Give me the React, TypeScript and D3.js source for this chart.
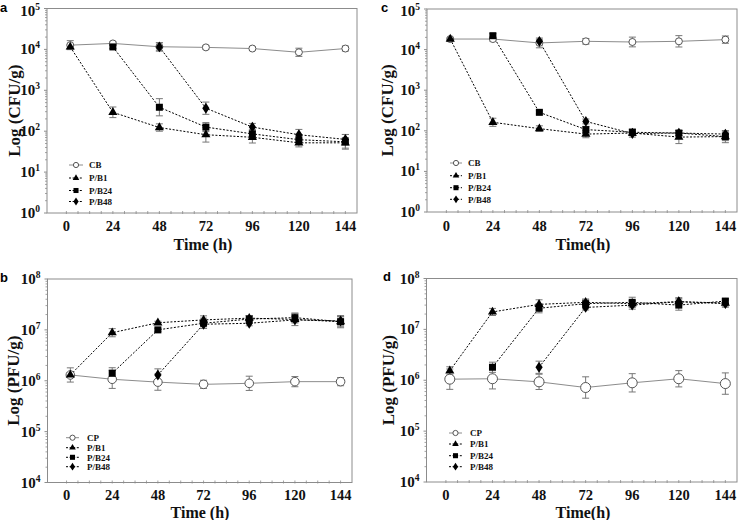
import React from "react";
import * as d3 from "d3";

// ---------- data ----------
const tAll = [2, 24, 48, 72, 96, 120, 144];
const t24 = [24, 48, 72, 96, 120, 144];
const t48 = [48, 72, 96, 120, 144];
const xTickValues = [0, 24, 48, 72, 96, 120, 144];

// panel a (bacteria, CFU/g)
const aCB = [1.27e4, 1.4e4, 1.16e4, 1.12e4, 1.05e4, 8.5e3, 1.05e4];
const aCBErr = [0.11, 0.04, 0.1, 0.04, 0.04, 0.1, 0.06];
const aB1 = [1.15e4, 290, 123, 82, 71, 52, 52];
const aB1Err = [0.05, 0.13, 0.09, 0.18, 0.14, 0.1, 0.13];
const aB24 = [1.15e4, 385, 126, 86, 62, 55];
const aB24Err = [0.04, 0.21, 0.11, 0.11, 0.11, 0.18];
const aB48 = [1.15e4, 365, 126, 82, 63];
const aB48Err = [0.1, 0.15, 0.09, 0.13, 0.12];

// panel b (phage, PFU/g)
const bCP = [1.3e6, 1.07e6, 9.4e5, 8.5e5, 8.9e5, 9.6e5, 9.6e5];
const bCPErr = [0.14, 0.18, 0.16, 0.08, 0.14, 0.1, 0.08];
const bB1 = [1.3e6, 8.8e6, 1.38e7, 1.57e7, 1.7e7, 1.6e7, 1.45e7];
const bB1Err = [0.05, 0.08, 0.03, 0.08, 0.05, 0.12, 0.1];
const bB24 = [1.4e6, 1.0e7, 1.35e7, 1.63e7, 1.74e7, 1.45e7];
const bB24Err = [0.11, 0.03, 0.1, 0.07, 0.09, 0.12];
const bB48 = [1.3e6, 1.29e7, 1.35e7, 1.57e7, 1.5e7];
const bB48Err = [0.12, 0.08, 0.05, 0.06, 0.08];

// panel c (bacteria, CFU/g)
const cCB = [1.82e4, 1.82e4, 1.46e4, 1.6e4, 1.54e4, 1.6e4, 1.76e4];
const cCBErr = [0.03, 0.05, 0.12, 0.07, 0.12, 0.14, 0.09];
const cB1 = [1.82e4, 162, 113, 83, 88, 70, 72];
const cB1Err = [0.03, 0.1, 0.07, 0.09, 0.1, 0.16, 0.15];
const cB24 = [2.2e4, 285, 107, 92, 88, 72];
const cB24Err = [0.05, 0.04, 0.08, 0.07, 0.06, 0.1];
const cB48 = [1.6e4, 170, 86, 88, 83];
const cB48Err = [0.05, 0.06, 0.05, 0.06, 0.07];

// panel d (phage, PFU/g)
const dCP = [1.05e6, 1.07e6, 9.3e5, 7.2e5, 8.9e5, 1.07e6, 8.6e5];
const dCPErr = [0.2, 0.2, 0.15, 0.21, 0.18, 0.16, 0.21];
const dB1 = [1.53e6, 2.2e7, 3.1e7, 3.4e7, 3.2e7, 3.5e7, 3.3e7];
const dB1Err = [0.08, 0.07, 0.09, 0.06, 0.06, 0.08, 0.06];
const dB24 = [1.8e6, 2.6e7, 3.2e7, 3.4e7, 3.0e7, 3.6e7];
const dB24Err = [0.1, 0.09, 0.09, 0.1, 0.1, 0.05];
const dB48 = [1.8e6, 2.7e7, 3.0e7, 3.5e7, 3.2e7];
const dB48Err = [0.12, 0.05, 0.08, 0.06, 0.07];

const legendB = ["CB", "P/B1", "P/B24", "P/B48"];
const legendP = ["CP", "P/B1", "P/B24", "P/B48"];

// ---------- drawing ----------
type Series = { t: number[]; v: number[]; e: number[]; kind: string };

const GRAY = "#8c8c8c";
const SERIF = "'Liberation Serif', 'Times New Roman', serif";
const SANS = "'Liberation Sans', Arial, sans-serif";

function Marker({ kind, x, y, r, s = 1 }: { kind: string; x: number; y: number; r: number; s?: number }) {
  if (kind === "circle")
    return <circle cx={x} cy={y} r={r} fill="#fff" stroke="#555" strokeWidth={1} />;
  if (kind === "triangle") {
    const p = d3.symbol(d3.symbolTriangle, 36)();
    return <path d={p || ""} transform={`translate(${x},${y}) scale(${s})`} fill="#000" />;
  }
  if (kind === "square") {
    const h = 3.5 * s;
    return <rect x={x - h} y={y - h} width={2 * h} height={2 * h} fill="#000" />;
  }
  const p = d3.symbol(d3.symbolDiamond, 34)();
  return <path d={p || ""} transform={`translate(${x},${y}) scale(${1.15 * s},${s})`} fill="#000" />;
}

type PanelProps = {
  left: number; right: number; top: number; bottom: number;
  yMinExp: number; yMaxExp: number;
  series: Series[];
  legend: string[];
  legendPos: { x0: number; x1: number; tx: number; ys: number[] };
  yTitle: string; xTitle: string;
  letter: string; letterX: number; letterY: number;
  yTitleX: number; tickBaseline: number; xTitleY: number; xTitleX: number;
  circR: number;
};

function Panel(p: PanelProps) {
  const x = d3.scaleLinear().domain([-10, 150]).range([p.left, p.right]);
  const y = d3
    .scaleLog()
    .domain([Math.pow(10, p.yMinExp), Math.pow(10, p.yMaxExp)])
    .range([p.bottom, p.top]);

  const decades = d3.range(p.yMinExp, p.yMaxExp + 1);
  const minor: number[] = [];
  for (let e = p.yMinExp; e < p.yMaxExp; e++)
    for (let k = 2; k <= 9; k++) minor.push(k * Math.pow(10, e));
  const xMinor = d3.range(0, 150, 6);

  const line = d3
    .line<[number, number]>()
    .x((d) => x(d[0]))
    .y((d) => y(d[1]));

  return (
    <g>
      {/* frame */}
      <rect
        x={p.left}
        y={p.top}
        width={p.right - p.left}
        height={p.bottom - p.top}
        fill="none"
        stroke={GRAY}
        strokeWidth={1}
      />
      {/* y minor ticks */}
      {minor.map((m, i) => (
        <line key={"ym" + i} x1={p.left - 2} x2={p.left} y1={y(m)} y2={y(m)} stroke={GRAY} strokeWidth={0.8} />
      ))}
      {decades.map((e) => (
        <line key={"yM" + e} x1={p.left - 3} x2={p.left} y1={y(Math.pow(10, e))} y2={y(Math.pow(10, e))} stroke={GRAY} strokeWidth={1} />
      ))}
      {/* x ticks */}
      {xMinor.map((t) => (
        <line key={"xm" + t} x1={x(t)} x2={x(t)} y1={p.bottom - 2} y2={p.bottom + 1} stroke={GRAY} strokeWidth={0.8} />
      ))}
      {/* y tick labels */}
      {decades.map((e) => (
        <text
          key={"yl" + e}
          x={p.left - 7}
          y={Math.max(y(Math.pow(10, e)) + 5, 16)}
          textAnchor="end"
          fontFamily={SERIF}
          fontWeight="bold"
          fontSize={15}
          fill="#111"
        >
          10
          <tspan dy={-6} fontSize={9.5}>
            {e}
          </tspan>
        </text>
      ))}
      {/* x tick labels */}
      {xTickValues.map((t) => (
        <text
          key={"xl" + t}
          x={x(t)}
          y={p.tickBaseline}
          textAnchor="middle"
          fontFamily={SERIF}
          fontWeight="bold"
          fontSize={14.5}
          fill="#111"
        >
          {t}
        </text>
      ))}
      {/* titles */}
      <text
        x={p.xTitleX}
        y={p.xTitleY}
        textAnchor="middle"
        fontFamily={SERIF}
        fontWeight="bold"
        fontSize={16}
        fill="#111"
      >
        {p.xTitle}
      </text>
      <text
        transform={`translate(${p.yTitleX},${(p.top + p.bottom) / 2}) rotate(-90)`}
        textAnchor="middle"
        dominantBaseline="central"
        fontFamily={SERIF}
        fontWeight="bold"
        fontSize={17}
        fill="#111"
      >
        {p.yTitle}
      </text>
      <text x={p.letterX} y={p.letterY} fontFamily={SANS} fontWeight="bold" fontSize={13} fill="#000">
        {p.letter}
      </text>

      {/* series lines */}
      {p.series.map((s, si) => {
        const pts = s.t.map((t, i) => [t, s.v[i]] as [number, number]);
        const isCtrl = s.kind === "circle";
        return (
          <path
            key={"ln" + si}
            d={line(pts) || ""}
            fill="none"
            stroke={isCtrl ? GRAY : "#000"}
            strokeWidth={1}
            strokeDasharray={isCtrl ? undefined : "2,1.6"}
          />
        );
      })}
      {/* error bars */}
      {p.series.map((s, si) =>
        s.t.map((t, i) => {
          const lo = y(s.v[i] / Math.pow(10, s.e[i]));
          const hi = y(s.v[i] * Math.pow(10, s.e[i]));
          const cx = x(t);
          return (
            <g key={"eb" + si + "-" + i} stroke="#777" strokeWidth={1}>
              <line x1={cx} x2={cx} y1={lo} y2={hi} />
              <line x1={cx - 3.5} x2={cx + 3.5} y1={lo} y2={lo} />
              <line x1={cx - 3.5} x2={cx + 3.5} y1={hi} y2={hi} />
            </g>
          );
        })
      )}
      {/* markers */}
      {p.series.map((s, si) =>
        s.t.map((t, i) => (
          <Marker key={"mk" + si + "-" + i} kind={s.kind} x={x(t)} y={y(s.v[i])} r={p.circR} />
        ))
      )}
      {/* legend */}
      {p.series.map((s, si) => {
        const ly = p.legendPos.ys[si];
        const isCtrl = s.kind === "circle";
        return (
          <g key={"lg" + si}>
            <line
              x1={p.legendPos.x0}
              x2={p.legendPos.x1}
              y1={ly}
              y2={ly}
              stroke={isCtrl ? GRAY : "#000"}
              strokeWidth={1}
              strokeDasharray={isCtrl ? undefined : "2,1.6"}
            />
            <Marker kind={s.kind} x={(p.legendPos.x0 + p.legendPos.x1) / 2} y={ly} r={2.6} s={0.72} />
            <text
              x={p.legendPos.tx}
              y={ly + 3.2}
              fontFamily={SERIF}
              fontWeight="bold"
              fontSize={9}
              fill="#111"
            >
              {p.legend[si]}
            </text>
          </g>
        );
      })}
    </g>
  );
}

export default function App() {
  const panelA: PanelProps = {
    left: 47, right: 357, top: 8.5, bottom: 213, yMinExp: 0, yMaxExp: 5,
    series: [
      { t: tAll, v: aCB, e: aCBErr, kind: "circle" },
      { t: tAll, v: aB1, e: aB1Err, kind: "triangle" },
      { t: t24, v: aB24, e: aB24Err, kind: "square" },
      { t: t48, v: aB48, e: aB48Err, kind: "diamond" },
    ],
    legend: legendB,
    legendPos: { x0: 69, x1: 83, tx: 89, ys: [165, 178, 190.5, 201.5] },
    yTitle: "Log (CFU/g)", xTitle: "Time (h)",
    letter: "a", letterX: 0, letterY: 12, yTitleX: 14,
    tickBaseline: 231, xTitleY: 250, xTitleX: 203, circR: 3.5,
  };
  const panelC: PanelProps = {
    left: 427, right: 737, top: 9, bottom: 212, yMinExp: 0, yMaxExp: 5,
    series: [
      { t: tAll, v: cCB, e: cCBErr, kind: "circle" },
      { t: tAll, v: cB1, e: cB1Err, kind: "triangle" },
      { t: t24, v: cB24, e: cB24Err, kind: "square" },
      { t: t48, v: cB48, e: cB48Err, kind: "diamond" },
    ],
    legend: legendB,
    legendPos: { x0: 450, x1: 462, tx: 468, ys: [163, 175.7, 187.7, 199.3] },
    yTitle: "Log (CFU/g)", xTitle: "Time(h)",
    letter: "c", letterX: 381, letterY: 12, yTitleX: 387,
    tickBaseline: 231, xTitleY: 250, xTitleX: 583, circR: 3.5,
  };
  const panelB: PanelProps = {
    left: 47.5, right: 352, top: 279, bottom: 482.5, yMinExp: 4, yMaxExp: 8,
    series: [
      { t: tAll, v: bCP, e: bCPErr, kind: "circle" },
      { t: tAll, v: bB1, e: bB1Err, kind: "triangle" },
      { t: t24, v: bB24, e: bB24Err, kind: "square" },
      { t: t48, v: bB48, e: bB48Err, kind: "diamond" },
    ],
    legend: legendP,
    legendPos: { x0: 66, x1: 79, tx: 87, ys: [437.7, 447.7, 457.3, 466.7] },
    yTitle: "Log (PFU/g)", xTitle: "Time (h)",
    letter: "b", letterX: 0, letterY: 282, yTitleX: 13,
    tickBaseline: 500, xTitleY: 518, xTitleX: 200, circR: 4.3,
  };
  const panelD: PanelProps = {
    left: 426.5, right: 737, top: 278.5, bottom: 482, yMinExp: 4, yMaxExp: 8,
    series: [
      { t: tAll, v: dCP, e: dCPErr, kind: "circle" },
      { t: tAll, v: dB1, e: dB1Err, kind: "triangle" },
      { t: t24, v: dB24, e: dB24Err, kind: "square" },
      { t: t48, v: dB48, e: dB48Err, kind: "diamond" },
    ],
    legend: legendP,
    legendPos: { x0: 449, x1: 462, tx: 470, ys: [433, 444, 455.7, 466.7] },
    yTitle: "Log (PFU/g)", xTitle: "Time(h)",
    letter: "d", letterX: 383, letterY: 281, yTitleX: 388,
    tickBaseline: 499.5, xTitleY: 518, xTitleX: 583, circR: 5,
  };

  return (
    <svg
      width={738}
      height={520}
      style={{ position: "absolute", left: 0, top: 0, background: "#fff" }}
    >
      <rect x={0} y={0} width={738} height={520} fill="#fff" />
      <Panel {...panelA} />
      <Panel {...panelC} />
      <Panel {...panelB} />
      <Panel {...panelD} />
    </svg>
  );
}
